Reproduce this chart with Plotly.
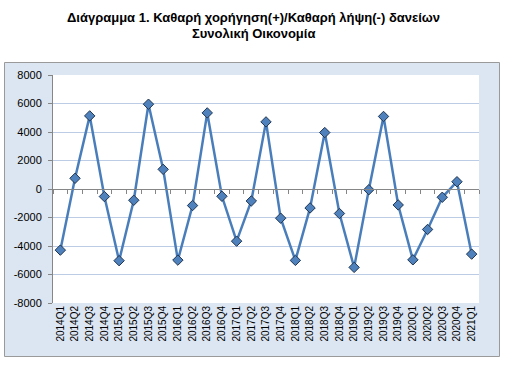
import plotly.graph_objects as go

quarters = ["2014Q1", "2014Q2", "2014Q3", "2014Q4",
            "2015Q1", "2015Q2", "2015Q3", "2015Q4",
            "2016Q1", "2016Q2", "2016Q3", "2016Q4",
            "2017Q1", "2017Q2", "2017Q3", "2017Q4",
            "2018Q1", "2018Q2", "2018Q3", "2018Q4",
            "2019Q1", "2019Q2", "2019Q3", "2019Q4",
            "2020Q1", "2020Q2", "2020Q3", "2020Q4",
            "2021Q1"]
values = [-4290, 750, 5130, -530,
          -5030, -790, 5950, 1380,
          -4990, -1160, 5340, -510,
          -3660, -840, 4710, -2050,
          -5010, -1330, 3960, -1720,
          -5500, -50, 5090, -1120,
          -4970, -2840, -580, 510,
          -4570]
y_ticks = [-8000, -6000, -4000, -2000, 0, 2000, 4000, 6000, 8000]

title_line1 = "Διάγραμμα 1. Καθαρή χορήγηση(+)/Καθαρή λήψη(-) δανείων"
title_line2 = "Συνολική Οικονομία"

W, H = 507, 365
L, R, T, B = 53, 28, 75, 62
pw, ph = W - L - R, H - T - B

def px_x(p):
    return (p - L) / pw

def px_y(p):
    return (H - B - p) / ph

fig = go.Figure()
fig.add_trace(go.Scatter(
    x=quarters, y=values, mode="lines+markers",
    line=dict(color="#4A7EBB", width=2.5),
    marker=dict(symbol="diamond", size=8, color="#4F81BD",
                line=dict(color="#1F3550", width=1)),
    hoverinfo="x+y", showlegend=False,
))
# dummy trace to materialise the zero-line axis
fig.add_trace(go.Scatter(
    x=list(range(len(quarters))), y=[None] * len(quarters),
    xaxis="x2", yaxis="y", mode="lines", showlegend=False, hoverinfo="skip",
))

font_family = "Liberation Sans, Arial, sans-serif"
fig.update_layout(
    width=W, height=H,
    margin=dict(l=L, r=R, t=T, b=B, pad=0, autoexpand=False),
    paper_bgcolor="white",
    plot_bgcolor="rgba(0,0,0,0)",
    font=dict(family=font_family, color="black", size=11),
    xaxis=dict(
        type="category", categoryorder="array", categoryarray=quarters,
        range=[-0.5, len(quarters) - 0.5], automargin=False,
        showgrid=False, showline=False, ticks="", zeroline=False,
        tickangle=-90, tickfont=dict(size=10, family=font_family),
        fixedrange=True,
    ),
    xaxis2=dict(
        overlaying="x", anchor="free", position=0.5, automargin=False,
        range=[-0.5, len(quarters) - 0.5],
        tick0=-0.5, dtick=1, ticks="outside", ticklen=4, tickcolor="#868686",
        showticklabels=False, showgrid=False, zeroline=False,
        showline=True, linecolor="#868686", linewidth=1,
        fixedrange=True,
    ),
    yaxis=dict(
        range=[-8000, 8000], tickvals=y_ticks, automargin=False,
        ticktext=[str(v) for v in y_ticks],
        showgrid=True, gridcolor="#BCCCE4", gridwidth=1,
        zeroline=False, showline=True, linecolor="#868686", linewidth=1,
        ticks="outside", ticklen=4, tickcolor="#868686",
        ticklabelstandoff=4,
        tickfont=dict(size=11, family=font_family),
        fixedrange=True,
    ),
    shapes=[
        dict(type="rect", xref="paper", yref="paper", layer="below",
             x0=px_x(4.5), x1=px_x(499.5), y0=px_y(356.5), y1=px_y(62.5),
             fillcolor="#DCE6F2", line=dict(color="#9A9A9A", width=1)),
        dict(type="rect", xref="paper", yref="paper", layer="below",
             x0=0, x1=1, y0=0, y1=1,
             fillcolor="white", line=dict(width=0)),
    ],
    annotations=[
        dict(text="<b>" + title_line1 + "</b>", xref="paper", yref="paper",
             x=px_x(253), y=px_y(17), xanchor="center", yanchor="middle",
             showarrow=False, font=dict(size=13, family=font_family)),
        dict(text="<b>" + title_line2 + "</b>", xref="paper", yref="paper",
             x=px_x(253), y=px_y(33), xanchor="center", yanchor="middle",
             showarrow=False, font=dict(size=13, family=font_family)),
    ],
)

fig.write_html("out.html",
               config={"displayModeBar": False},
               post_script="document.body.style.margin='0';"
                           "document.body.style.padding='0';")
